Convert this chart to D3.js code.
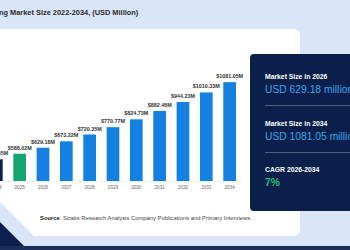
<!DOCTYPE html>
<html>
<head>
<meta charset="utf-8">
<script src="https://cdn.jsdelivr.net/npm/d3@7"></script>
<style>
  body { margin: 0; background: #dae6f8; }
  svg { display: block; font-family: "Liberation Sans", Arial, sans-serif; }
</style>
</head>
<body>
<div id="chart"></div>
<script>
// chart data
var years = ["2022", "2023", "2024", "2025", "2026", "2027", "2028", "2029", "2030", "2031", "2032", "2033", "2034"]
var values = [480.0, 513.6, 549.55, 588.02, 629.18, 673.22, 720.35, 770.77, 824.73, 882.46, 944.23, 1010.33, 1081.05]
var panelLabels = ["Market Size in 2026", "Market Size in 2034", "CAGR 2026-2034"]
var panelValues = ["USD 629.18 million", "USD 1081.05 million", "7%"]

var width = 350
var height = 250

var svg = d3.select("#chart")
  .append("svg")
  .attr("width", width)
  .attr("height", height)

// background + white card
svg.append("rect")
  .attr("width", width)
  .attr("height", height)
  .attr("fill", "#dae6f8")

svg.append("rect")
  .attr("x", -20)
  .attr("y", 29)
  .attr("width", 320)
  .attr("height", 207)
  .attr("rx", 6)
  .attr("fill", "#ffffff")

// lower-left decoration
svg.append("polygon")
  .attr("points", "0,202 35,237 0,237")
  .attr("fill", "#dae6f8")
svg.append("polygon")
  .attr("points", "0,222 26,248 0,248")
  .attr("fill", "#0d1f4d")
svg.append("rect")
  .attr("x", 0)
  .attr("y", 246)
  .attr("width", width)
  .attr("height", 4)
  .attr("fill", "#1b2d58")

// title
svg.append("text")
  .attr("x", -1)
  .attr("y", 15)
  .attr("font-size", 7.4)
  .attr("font-weight", "bold")
  .attr("fill", "#2b2b2b")
  .text("ng Market Size 2022-2034, (USD Million)")

// scales
var x = d3.scaleBand()
  .domain(years)
  .range([-62, 241.3])
  .paddingInner(0.456)
  .paddingOuter(0.228)

var y = d3.scaleLinear()
  .domain([400, 1100])
  .range([181, 79.4])

function barColor(yr) {
  if (+yr < 2025) return "#0d1f4d"
  if (+yr === 2025) return "#14a571"
  return "#1380e2"
}

var g = svg.append("g")

g.selectAll("rect.bar")
  .data(years)
  .enter()
  .append("rect")
  .attr("class", "bar")
  .attr("x", function (d) { return x(d) })
  .attr("y", function (d, i) { return y(values[i]) })
  .attr("width", x.bandwidth())
  .attr("height", function (d, i) { return y(400) - y(values[i]) })
  .attr("fill", function (d) { return barColor(d) })

g.selectAll("text.lbl")
  .data(years)
  .enter()
  .append("text")
  .attr("class", "lbl")
  .attr("x", function (d) { return x(d) + x.bandwidth() / 2 })
  .attr("y", function (d, i) { return y(values[i]) - 4 })
  .attr("text-anchor", "middle")
  .attr("font-size", 5.4)
  .attr("font-weight", "bold")
  .attr("fill", "#333")
  .text(function (d, i) { return "$" + values[i].toFixed(2) + "M" })

var xAxis = svg.append("g")
  .attr("transform", "translate(0," + y(400) + ")")
  .call(d3.axisBottom(x).tickSize(0).tickPadding(5))
xAxis.select(".domain").attr("stroke", "#e2e2e2").attr("stroke-width", 0.6)
xAxis.selectAll("text")
  .attr("font-size", 4.6)
  .attr("fill", "#666")
  .attr("font-family", "Liberation Sans, Arial, sans-serif")

// source
var src = svg.append("text")
  .attr("x", 40)
  .attr("y", 220)
  .attr("font-size", 5.85)
  .attr("fill", "#444")
src.append("tspan").attr("font-weight", "bold").attr("fill", "#222").text("Source")
src.append("tspan").text(": Straits Research Analysis Company Publications and Primary Interviews.")

// right panel
svg.append("rect")
  .attr("x", 250)
  .attr("y", 54)
  .attr("width", 120)
  .attr("height", 157)
  .attr("rx", 4)
  .attr("fill", "#0b1f4b")

var rows = [79, 126, 172.3]
panelLabels.forEach(function (t, i) {
  svg.append("text")
    .attr("x", 265)
    .attr("y", rows[i])
    .attr("font-size", 6.8)
    .attr("font-weight", "bold")
    .attr("fill", "#ffffff")
    .text(t)
  svg.append("text")
    .attr("x", 265)
    .attr("y", rows[i] + 13.5)
    .attr("font-size", 10.3)
    .attr("font-weight", i === 2 ? "bold" : "normal")
    .attr("fill", i === 2 ? "#1fbf7a" : "#3ba6ee")
    .text(panelValues[i])
  if (i < 2) {
    svg.append("line")
      .attr("x1", 265)
      .attr("x2", 350)
      .attr("y1", rows[i] + 26.5)
      .attr("y2", rows[i] + 26.5)
      .attr("stroke", "#7d8aa3")
      .attr("stroke-width", 0.6)
  }
})
</script>
</body>
</html>
